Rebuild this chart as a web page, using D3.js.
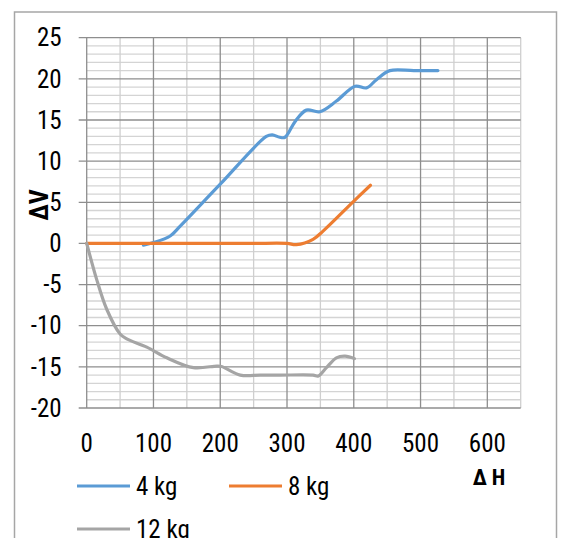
<!DOCTYPE html>
<html>
<head>
<meta charset="utf-8">
<script src="https://cdn.jsdelivr.net/npm/d3@7"></script>
<style>
  body { margin: 0; background: #fff; }
  text { font-family: "Liberation Sans Narrow", "Roboto Condensed", Roboto, sans-serif; fill: #000; }
</style>
</head>
<body>
<script>
// values
var h4 = [85, 100, 125, 140, 200, 269, 278, 289, 297, 312, 329, 349, 374, 402, 419, 434, 454, 490, 526]
var v4 = [-0.2, 0.1, 0.9, 2.1, 7.2, 13.0, 13.2, 12.9, 12.9, 14.8, 16.2, 16.0, 17.3, 19.1, 18.9, 19.9, 21.0, 21.0, 21.0]

var h8 = [0, 50, 100, 150, 200, 250, 300, 314, 339, 354, 399, 425]
var v8 = [0, 0, 0, 0, 0, 0, 0, -0.15, 0.5, 1.5, 5.05, 7.07]

var h12 = [0, 15, 30, 50, 60, 90, 120, 160, 195, 202, 230, 260, 289, 339, 347, 359, 374, 387, 401]
var v12 = [0, -4.4, -8, -11, -11.6, -12.6, -13.9, -15.1, -14.9, -14.95, -16, -16, -16, -16, -16.1, -15.1, -13.9, -13.7, -14.0]

var seriesNames = ["4 kg", "8 kg", "12 kg"]
var seriesColors = ["#5b9bd5", "#ed7d31", "#a5a5a5"]

var xTicks = [0, 100, 200, 300, 400, 500, 600]
var yTicks = [-20, -15, -10, -5, 0, 5, 10, 15, 20, 25]

// chart geometry
var W = 562, H = 538
var margin = {top: 37.7, left: 86.7, right: 41.3, bottom: 130}
var width = W - margin.left - margin.right,
    height = 408 - margin.top

var svg = d3.select("body").append("svg")
    .attr("width", W)
    .attr("height", H)

// outer frame
svg.append("rect")
    .attr("x", 14.5).attr("y", 12)
    .attr("width", 542).attr("height", 540)
    .attr("fill", "none")
    .attr("stroke", "#a6a6a6")
    .attr("stroke-width", 1.5)

var g = svg.append("g")
    .attr("transform", "translate(" + margin.left + "," + margin.top + ")")

var x = d3.scaleLinear().domain([0, 650]).range([0, width])
var y = d3.scaleLinear().domain([-20, 25]).range([height, 0])

// minor grid
g.append("g").selectAll("line")
    .data(d3.range(-20, 26, 1).filter(function(d) { return d % 5 != 0 }))
    .enter().append("line")
    .attr("x1", 0).attr("x2", width)
    .attr("y1", function(d) { return y(d) }).attr("y2", function(d) { return y(d) })
    .attr("stroke", "#d4d4d4").attr("stroke-width", 1.3)

g.append("g").selectAll("line")
    .data(d3.range(50, 651, 100))
    .enter().append("line")
    .attr("y1", 0).attr("y2", height)
    .attr("x1", function(d) { return x(d) }).attr("x2", function(d) { return x(d) })
    .attr("stroke", "#cfcfcf").attr("stroke-width", 1.3)

// major grid
g.append("g").selectAll("line")
    .data(yTicks)
    .enter().append("line")
    .attr("x1", -8).attr("x2", width)
    .attr("y1", function(d) { return y(d) }).attr("y2", function(d) { return y(d) })
    .attr("stroke", "#8e8e8e").attr("stroke-width", 1.3)

g.append("g").selectAll("line")
    .data(xTicks)
    .enter().append("line")
    .attr("y1", 0).attr("y2", height)
    .attr("x1", function(d) { return x(d) }).attr("x2", function(d) { return x(d) })
    .attr("stroke", "#8e8e8e").attr("stroke-width", 1.3)

// axis labels
g.append("g").selectAll("text")
    .data(yTicks)
    .enter().append("text")
    .attr("x", -25)
    .attr("y", function(d) { return y(d) })
    .attr("dy", "0.35em")
    .attr("text-anchor", "end")
    .style("font-size", "25px")
    .text(function(d) { return d })

g.append("g").selectAll("text")
    .data(xTicks)
    .enter().append("text")
    .attr("x", function(d) { return x(d) })
    .attr("y", 443 - margin.top)
    .attr("dy", "0.35em")
    .attr("text-anchor", "middle")
    .style("font-size", "25px")
    .text(function(d) { return d })

svg.append("text")
    .attr("transform", "translate(48,205) rotate(-90)")
    .attr("text-anchor", "middle")
    .style("font-size", "26px")
    .style("font-weight", "bold")
    .text("ΔV")

svg.append("text")
    .attr("x", 489).attr("y", 485)
    .attr("text-anchor", "middle")
    .style("font-size", "22px")
    .style("font-weight", "bold")
    .text("Δ H")

// series lines
var line = d3.line()
    .x(function(d) { return x(d[0]) })
    .y(function(d) { return y(d[1]) })
    .curve(d3.curveCatmullRom.alpha(0.5))

var series = [d3.zip(h4, v4), d3.zip(h8, v8), d3.zip(h12, v12)]

g.selectAll(".series")
    .data(series)
    .enter().append("path")
    .attr("class", "series")
    .attr("d", line)
    .attr("fill", "none")
    .attr("stroke", function(d, i) { return seriesColors[i] })
    .attr("stroke-width", 3.2)
    .attr("stroke-linecap", "round")

// legend
var legendPos = [[77, 486], [229, 486], [77, 529]]
var legend = svg.selectAll(".legend")
    .data(seriesNames)
    .enter().append("g")
    .attr("class", "legend")
    .attr("transform", function(d, i) { return "translate(" + legendPos[i][0] + "," + legendPos[i][1] + ")" })

legend.append("line")
    .attr("x1", 0).attr("x2", 53)
    .attr("stroke", function(d, i) { return seriesColors[i] })
    .attr("stroke-width", 3.2)

legend.append("text")
    .attr("x", 59)
    .attr("dy", "0.35em")
    .style("font-size", "25px")
    .text(function(d) { return d })
</script>
</body>
</html>
